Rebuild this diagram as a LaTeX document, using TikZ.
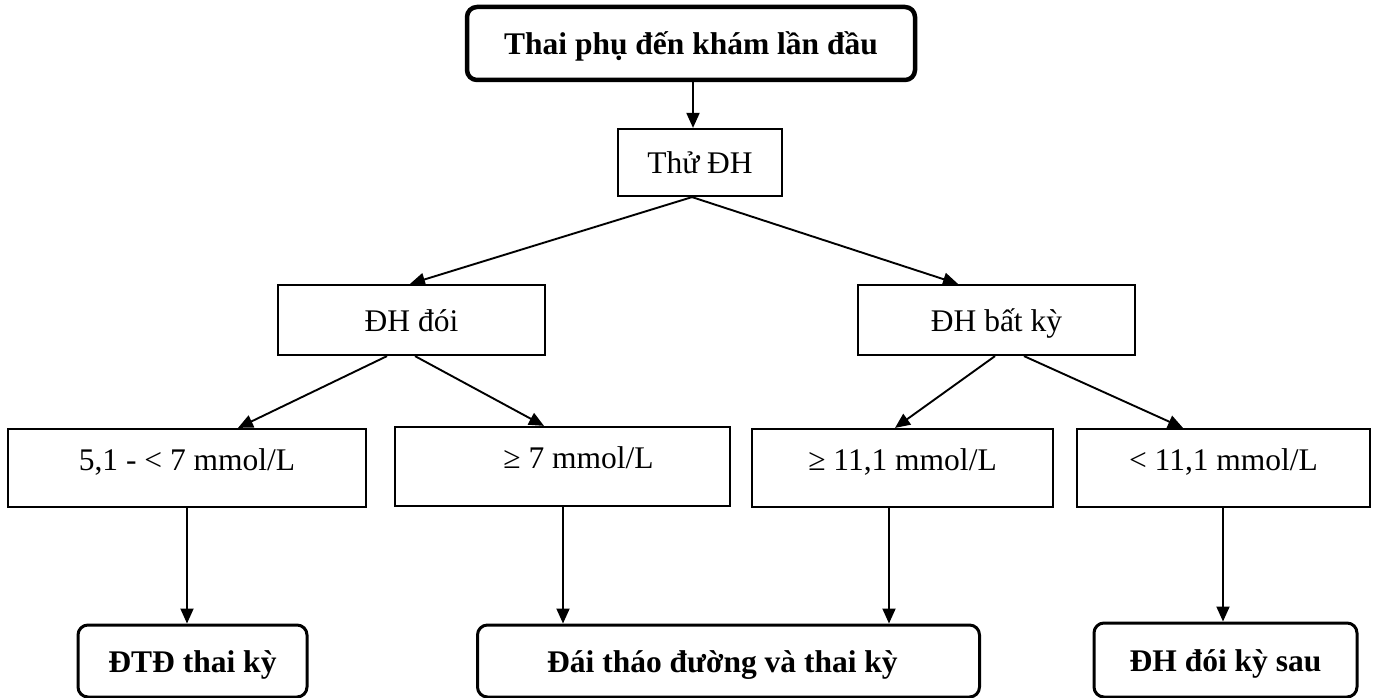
\documentclass[tikz,border=0pt]{standalone}
\usepackage{fontspec}
\setmainfont{Liberation Serif}
\usetikzlibrary{arrows.meta}
\begin{document}
\begin{tikzpicture}[x=1pt,y=-1pt,
  txt/.style={font=\fontsize{31.5}{36}\selectfont, text height=22pt, text depth=0pt, inner sep=0pt},
  box/.style={txt, draw, line width=2.2pt, rectangle},
  lowbox/.style={box, text depth=18pt},
  endbox/.style={txt, draw, line width=3pt, rounded corners=10pt, font=\fontsize{31.5}{36}\selectfont\bfseries},
  arr/.style={line width=1.9pt, -{Triangle[length=15pt,width=13pt]}},
  ln/.style={line width=1.9pt}
]
\useasboundingbox (0,0) rectangle (1374,698);
\fill[white] (0,0) rectangle (1374,698);

\node[endbox, line width=4.5pt, minimum width=448pt, minimum height=73pt] (top) at (691,43.5) {Thai phụ đến khám lần đầu};
\node[box, minimum width=164pt, minimum height=67pt] (thu) at (700,162.5) {Thử ĐH};
\node[box, minimum width=267pt, minimum height=70pt] (doi) at (411.5,320) {ĐH đói};
\node[box, minimum width=277pt, minimum height=70pt] (bk) at (996.5,320) {ĐH bất kỳ};
\node[lowbox, minimum width=358pt, minimum height=78pt] (a1) at (187,468) {5,1 - < 7 mmol/L};
\node[lowbox, minimum width=335pt, minimum height=79pt] (a2) at (562.5,466.5) {\hspace*{32pt}≥ 7 mmol/L};
\node[lowbox, minimum width=301pt, minimum height=78pt] (a3) at (902.5,468) {≥ 11,1 mmol/L};
\node[lowbox, minimum width=293pt, minimum height=78pt] (a4) at (1223.5,468) {< 11,1 mmol/L};
\node[endbox, minimum width=229pt, minimum height=72pt] (b1) at (192.5,661) {ĐTĐ thai kỳ};
\node[endbox, minimum width=502pt, minimum height=72pt] (b2) at (728.5,661) {\hspace*{-12pt}Đái tháo đường và thai kỳ};
\node[endbox, minimum width=263pt, minimum height=74pt] (b3) at (1225.5,660) {ĐH đói kỳ sau};

\draw[arr] ([xshift=2pt]top.south) -- ([xshift=-7pt]thu.north);
\draw[arr] ([xshift=-8pt]thu.south) -- ([xshift=-1.5pt]doi.north);
\draw[arr] ([xshift=-8pt]thu.south) -- ([xshift=-38.5pt]bk.north);
\draw[arr] ([xshift=-24.5pt]doi.south) -- ([xshift=51pt]a1.north);
\draw[arr] ([xshift=3.5pt]doi.south) -- ([xshift=-18.5pt]a2.north);
\draw[arr] ([xshift=-1.5pt]bk.south) -- ([xshift=-7.5pt]a3.north);
\draw[arr] ([xshift=27.5pt]bk.south) -- ([xshift=-40.5pt]a4.north);
\draw[arr] (a1.south) -- (a1.south |- b1.north);
\draw[arr] ([xshift=0.5pt]a2.south) coordinate (s2) -- (s2 |- b2.north);
\draw[arr] ([xshift=-13.5pt]a3.south) coordinate (s3) -- (s3 |- b2.north);
\draw[arr] ([xshift=-0.5pt]a4.south) coordinate (s4) -- (s4 |- b3.north);
\end{tikzpicture}
\end{document}
